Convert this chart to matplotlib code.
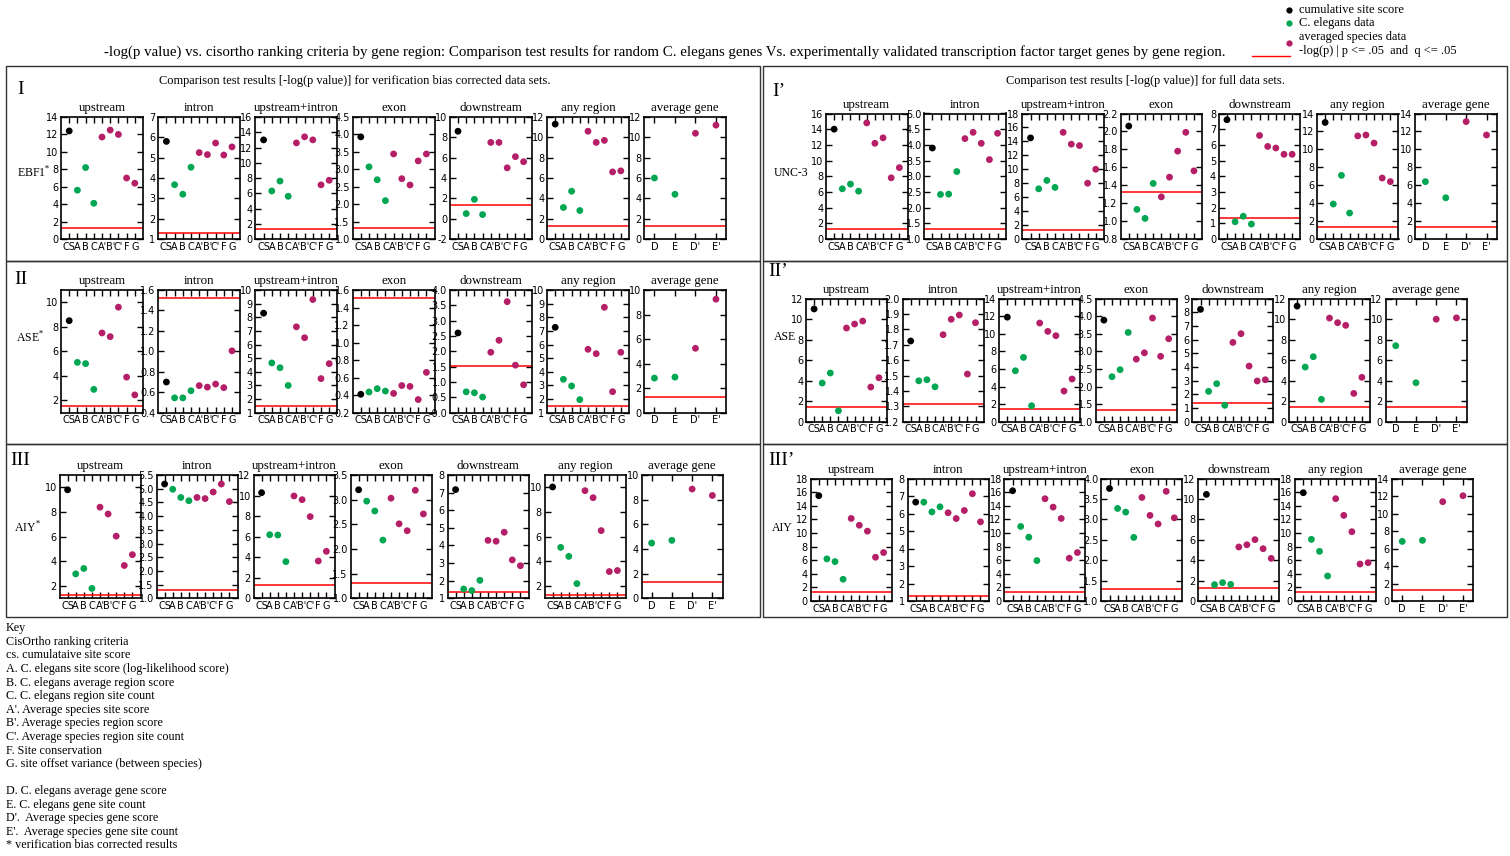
import numpy as np
import matplotlib.pyplot as plt
from matplotlib.lines import Line2D
from matplotlib.patches import Rectangle

plt.rcParams['font.family'] = 'DejaVu Sans'
plt.rcParams['mathtext.fontset'] = 'dejavuserif'
SERIF = 'Liberation Serif'
GREEN = '#00a651'
MAGENTA = '#b51f67'

W, H = 1510, 856

regions = ['upstream', 'intron', 'upstream+intron', 'exon', 'downstream', 'any region']
criteria = ['CS', 'A', 'B', 'C', "A'", "B'", "C'", 'F', 'G']
gene_criteria = ['D', 'E', "D'", "E'"]

# -log(p) per region, order: cs, A, B, C, A', B', C', F, G
ebf1_bc = [
    [12.4, 5.6, 8.2, 4.1, 11.7, 12.5, 12.0, 7.0, 6.4],
    [5.8, 3.67, 3.2, 4.53, 5.25, 5.15, 5.72, 5.13, 5.53],
    [13.0, 6.3, 7.6, 5.6, 12.6, 13.4, 13.0, 7.1, 7.7],
    [3.93, 3.07, 2.7, 2.1, 3.44, 2.73, 2.55, 3.24, 3.44],
    [8.6, 0.5, 1.9, 0.4, 7.5, 7.5, 5.0, 6.1, 5.6],
    [11.3, 3.1, 4.7, 2.8, 10.6, 9.5, 9.7, 6.6, 6.7],
]
ebf1_bc_gene = [6.0, 4.4, 10.4, 11.2]
ebf1_bc_cut = [1.3, 1.3, 1.3, 1.32, 1.3, 1.3, 1.3]

unc3_full = [
    [14.0, 6.4, 7.0, 6.1, 14.8, 12.2, 12.9, 7.8, 9.1],
    [3.9, 2.42, 2.43, 3.15, 4.2, 4.4, 4.05, 3.53, 4.37],
    [14.5, 7.2, 8.4, 7.4, 15.3, 13.6, 13.4, 8.0, 10.0],
    [2.06, 1.13, 1.03, 1.42, 1.27, 1.49, 1.78, 1.99, 1.56],
    [7.6, 1.1, 1.45, 0.95, 6.6, 5.9, 5.8, 5.4, 5.4],
    [13.0, 3.9, 7.1, 2.9, 11.5, 11.6, 10.7, 6.8, 6.4],
]
unc3_full_gene = [6.4, 4.6, 13.1, 11.6]
unc3_full_cut = [1.32, 1.32, 1.34, 1.325, 1.34, 1.37, 1.34]

ase_bc = [
    [8.5, 5.1, 5.0, 2.9, 7.5, 7.2, 9.6, 3.9, 2.45],
    [0.70, 0.545, 0.545, 0.615, 0.665, 0.65, 0.68, 0.645, 1.005],
    [8.3, 4.65, 4.3, 3.0, 7.3, 6.5, 9.3, 3.5, 4.6],
    [0.41, 0.436, 0.474, 0.447, 0.42, 0.51, 0.50, 0.35, 0.66],
    [2.6, 0.68, 0.65, 0.51, 1.97, 2.36, 3.62, 1.55, 0.91],
    [7.26, 3.45, 2.96, 1.96, 5.65, 5.33, 8.73, 2.54, 5.43],
]
ase_bc_gene = [2.82, 2.9, 5.25, 9.25]
ase_bc_cut = [1.55, 1.52, 1.5, 1.51, 1.51, 1.51, 1.3]

ase_full = [
    [11.0, 3.77, 4.75, 1.07, 9.14, 9.53, 9.82, 3.38, 4.29],
    [1.725, 1.466, 1.473, 1.427, 1.766, 1.866, 1.894, 1.51, 1.844],
    [11.9, 5.8, 7.32, 1.82, 11.23, 10.28, 9.79, 3.49, 4.86],
    [3.89, 2.28, 2.48, 3.54, 2.78, 2.96, 3.95, 2.86, 3.36],
    [8.22, 2.22, 2.78, 1.2, 5.8, 6.44, 4.07, 2.98, 3.07],
    [11.28, 5.33, 6.34, 2.18, 10.11, 9.66, 9.4, 2.76, 4.33],
]
ase_full_gene = [7.41, 3.8, 10.0, 10.13]
ase_full_cut = [1.4, 1.315, 1.4, 1.33, 1.37, 1.43, 1.4]

aiy_bc = [
    [9.8, 2.98, 3.42, 1.8, 8.39, 7.84, 6.04, 3.66, 4.54],
    [5.17, 4.98, 4.68, 4.56, 4.68, 4.64, 4.88, 5.17, 4.53],
    [10.28, 6.19, 6.16, 3.57, 9.96, 9.6, 7.95, 3.63, 4.57],
    [3.2, 2.97, 2.77, 2.18, 3.03, 2.51, 2.37, 3.19, 2.71],
    [7.17, 1.53, 1.44, 2.02, 4.29, 4.24, 4.75, 3.18, 2.85],
    [10.03, 5.13, 4.4, 2.19, 9.73, 9.16, 6.49, 3.17, 3.25],
]
aiy_bc_gene = [4.48, 4.7, 8.86, 8.34]
aiy_bc_cut = [1.28, 1.32, 1.33, 1.32, 1.36, 1.29, 1.3]

aiy_full = [
    [15.5, 6.2, 5.8, 3.2, 12.15, 11.15, 10.28, 6.44, 7.13],
    [6.66, 6.66, 6.1, 6.39, 6.05, 5.72, 6.18, 7.14, 5.53],
    [16.23, 10.97, 9.39, 5.95, 15.05, 13.82, 12.15, 6.3, 7.13],
    [3.76, 3.27, 3.18, 2.56, 3.54, 3.10, 2.89, 3.69, 3.04],
    [10.46, 1.6, 1.8, 1.63, 5.3, 5.52, 6.02, 5.13, 4.18],
    [15.94, 9.07, 7.31, 3.68, 15.06, 12.6, 10.2, 5.44, 5.64],
]
aiy_full_gene = [6.82, 6.94, 11.37, 12.05]
aiy_full_cut = [1.28, 1.29, 1.33, 1.29, 1.31, 1.32, 1.3]

# y range (lo, hi, step) for each panel of each block
ebf1_bc_ylim = [(0, 14, 2), (1, 7, 1), (0, 16, 2), (1, 4.5, 0.5), (-2, 10, 2), (0, 12, 2), (0, 12, 2)]
unc3_full_ylim = [(0, 16, 2), (1, 5, 0.5), (0, 18, 2), (0.8, 2.2, 0.2), (0, 8, 1), (0, 14, 2), (0, 14, 2)]
ase_bc_ylim = [(1, 11, 2), (0.4, 1.6, 0.2), (1, 10, 1), (0.2, 1.6, 0.2), (0, 4, 0.5), (1, 10, 1), (0, 10, 2)]
ase_full_ylim = [(0, 12, 2), (1.2, 2.0, 0.1), (0, 14, 2), (1, 4.5, 0.5), (0, 9, 1), (0, 12, 2), (0, 12, 2)]
aiy_bc_ylim = [(1, 11, 2), (1, 5.5, 0.5), (0, 12, 2), (1, 3.5, 0.5), (1, 8, 1), (1, 11, 2), (0, 10, 2)]
aiy_full_ylim = [(0, 18, 2), (1, 8, 1), (0, 18, 2), (1, 4, 0.5), (0, 12, 2), (0, 18, 2), (0, 14, 2)]

blocks = [
    # data, gene data, cutoffs, ylims, numeral, label, (x0, dx, w, top, bottom) in px
    (ebf1_bc, ebf1_bc_gene, ebf1_bc_cut, ebf1_bc_ylim, 'I', 'EBF1$^{*}$', (61, 97.2, 82, 117, 239), (17, 90), (17, 172)),
    (unc3_full, unc3_full_gene, unc3_full_cut, unc3_full_ylim, 'I\u2019', 'UNC-3', (826, 98.2, 81.5, 113.5, 239), (772, 92), (774, 173)),
    (ase_bc, ase_bc_gene, ase_bc_cut, ase_bc_ylim, 'II', 'ASE$^{*}$', (61, 97.2, 82, 290, 412.7), (14, 279), (16, 337)),
    (ase_full, ase_full_gene, ase_full_cut, ase_full_ylim, 'II\u2019', 'ASE', (806, 96.6, 81, 298.7, 421.7), (768, 272), (774, 337)),
    (aiy_bc, aiy_bc_gene, aiy_bc_cut, aiy_bc_ylim, 'III', 'AIY$^{*}$', (59.5, 97, 81, 475, 598.3), (10, 461), (14, 527)),
    (aiy_full, aiy_full_gene, aiy_full_cut, aiy_full_ylim, 'III\u2019', 'AIY', (810.7, 96.9, 81, 478.7, 601), (768, 461), (772, 528)),
]

site_colors = ['black'] + [GREEN] * 3 + [MAGENTA] * 5
gene_colors = [GREEN, GREEN, MAGENTA, MAGENTA]


def fx(x):
    return x / W


def fy(y):
    return 1 - y / H


def draw_panel(ax, values, colors, labels, cut, ylim, title):
    n = len(values)
    x = np.arange(n)
    ax.scatter(x, values, c=colors, s=24, linewidths=0, zorder=3)
    ax.axhline(cut, color='red', lw=1.1, zorder=2)
    if n == 4:
        ax.set_xlim(-0.5, n - 0.5)
    else:
        ax.set_xlim(-1, n)
    lo, hi, step = ylim
    ax.set_ylim(lo, hi)
    first = np.ceil(lo / step - 1e-9) * step
    ticks = np.arange(first, hi + 1e-9, step)
    ax.set_yticks(ticks)
    fmt = '%.1f' if step < 1 else '%d'
    ax.set_yticklabels([fmt % t for t in ticks])
    ax.set_xticks(x)
    ax.set_xticklabels(labels)
    if n != 4:
        ax.get_xticklabels()[0].set_fontsize(4.8)
    ax.tick_params(direction='in', top=True, right=True, length=4, width=1,
                   labelsize=7, pad=2)
    for sp in ax.spines.values():
        sp.set_linewidth(1.2)
    ax.set_title(title, family=SERIF, fontsize=9.3, pad=4)


fig = plt.figure(figsize=(W / 100, H / 100), dpi=100)

# cell frames
for (x0, x1) in [(6, 760), (763, 1507)]:
    for (y0, y1) in [(66, 261), (261, 444), (444, 617)]:
        fig.add_artist(Rectangle((fx(x0), fy(y1)), fx(x1 - x0), (y1 - y0) / H,
                                 transform=fig.transFigure, fill=False,
                                 edgecolor='#333333', lw=1))

for data, gene, cuts, ylims, numeral, label, frame, npos, lpos in blocks:
    x0, dx, w, top, bottom = frame
    for i in range(7):
        ax = fig.add_axes([fx(x0 + i * dx), fy(bottom), fx(w), (bottom - top) / H])
        if i < 6:
            draw_panel(ax, data[i], site_colors, criteria, cuts[i], ylims[i], regions[i])
        else:
            draw_panel(ax, gene, gene_colors, gene_criteria, cuts[i], ylims[i], 'average gene')
    fig.text(fx(npos[0]), fy(npos[1]), numeral, family=SERIF, fontsize=14, va='center', ha='left')
    fig.text(fx(lpos[0]), fy(lpos[1]), label, family=SERIF, fontsize=8.5, va='center', ha='left')

fig.text(fx(355), fy(81), 'Comparison test results [-log(p value)] for verification bias corrected data sets.',
         family=SERIF, fontsize=8.9, ha='center', va='center')
fig.text(fx(1146), fy(81), 'Comparison test results [-log(p value)] for full data sets.',
         family=SERIF, fontsize=8.9, ha='center', va='center')

fig.text(fx(665), fy(52), '-log(p value) vs. cisortho ranking criteria by gene region: Comparison test results for '
         'random C. elegans genes Vs. experimentally validated transcription factor target genes by gene region.',
         family=SERIF, fontsize=10.7, ha='center', va='center')

# legend at top right
legend_items = [('cumulative site score', 10), ('C. elegans data', 23),
                ('averaged species data', 37), ('-log(p) | p <= .05  and  q <= .05', 51)]
for txt, y in legend_items:
    fig.text(fx(1299), fy(y), txt, family=SERIF, fontsize=8.9, ha='left', va='center')
for col, y in [('black', 10), (GREEN, 23), (MAGENTA, 43)]:
    fig.add_artist(Line2D([fx(1289)], [fy(y)], transform=fig.transFigure, marker='o',
                          markersize=4.5, color=col, markeredgewidth=0, linestyle='none'))
fig.add_artist(Line2D([fx(1252), fx(1290)], [fy(56), fy(56)], transform=fig.transFigure,
                      color='red', lw=1))

key_lines = [
    ('Key', 628), ('CisOrtho ranking criteria', 642), ('cs. cumulataive site score', 655),
    ('A. C. elegans site score (log-likelihood score)', 669),
    ('B. C. elegans average region score', 683), ('C. C. elegans region site count', 696),
    ("A'. Average species site score", 710), ("B'. Average species region score", 723),
    ("C'. Average species region site count", 737), ('F. Site conservation', 751),
    ('G. site offset variance (between species)', 764),
    ('D. C. elegans average gene score', 791), ('E. C. elegans gene site count', 805),
    ("D'.  Average species gene score", 818), ("E'.  Average species gene site count", 832),
    ('* verification bias corrected results', 845),
]
for txt, y in key_lines:
    fig.text(fx(6), fy(y), txt, family=SERIF, fontsize=8.7, ha='left', va='center')

fig.savefig('out.png', dpi=100)
